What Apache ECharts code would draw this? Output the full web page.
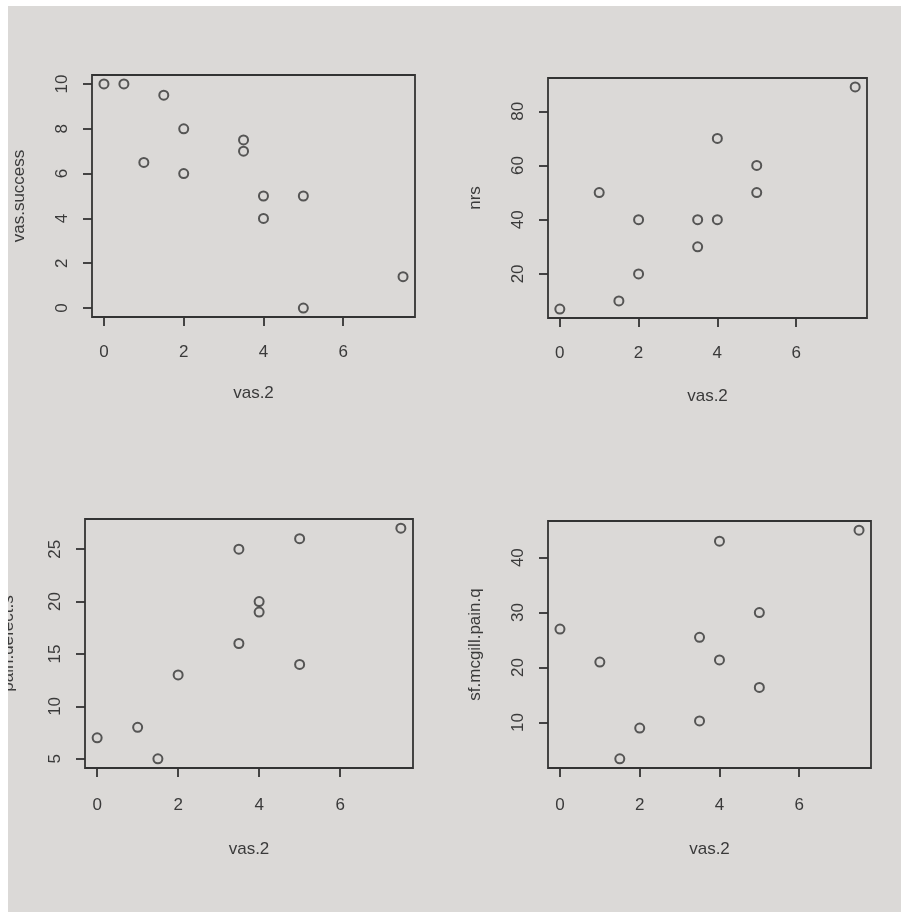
<!DOCTYPE html>
<html>
<head>
<meta charset="utf-8">
<script src="https://cdn.jsdelivr.net/npm/echarts@6/dist/echarts.min.js"></script>
<style>
  html, body { margin: 0; padding: 0; background: #ffffff; width: 901px; height: 917px; overflow: hidden; }
  #chart { position: absolute; left: 8px; top: 6px; width: 893px; height: 906px; background: #dbd9d7; overflow: hidden; }
</style>
</head>
<body>
<div id="chart"></div>
<script>
// ---- data ----
const xName = 'vas.2';

const vas2_p1 = [0, 0.5, 1.5, 1, 2, 2, 3.5, 3.5, 4, 4, 5, 5, 7.5];
const vasSuccess = [10, 10, 9.5, 6.5, 8, 6, 7.5, 7, 5, 4, 5, 0, 1.4];

const vas2_p2 = [0, 1, 1.5, 2, 2, 3.5, 3.5, 4, 4, 5, 5, 7.5];
const nrs = [7, 50, 10, 40, 20, 40, 30, 70, 40, 60, 50, 89];

const vas2_p3 = [0, 1, 1.5, 2, 3.5, 3.5, 4, 4, 5, 5, 7.5];
const painDefect = [7, 8, 5, 13, 16, 25, 20, 19, 14, 26, 27];

const vas2_p4 = [0, 1, 1.5, 2, 3.5, 3.5, 4, 4, 5, 5, 7.5];
const sfMcgill = [27, 21, 3.4, 9, 25.5, 10.3, 43, 21.4, 30, 16.4, 45];

const xTicks = [0, 2, 4, 6];
const yTicks_p1 = [0, 2, 4, 6, 8, 10];
const yTicks_p2 = [20, 40, 60, 80];
const yTicks_p3 = [5, 10, 15, 20, 25];
const yTicks_p4 = [10, 20, 30, 40];

const yNames = ['vas.success', 'nrs', 'pain.defect.s', 'sf.mcgill.pain.q'];

// ---- styling / layout ----
const INK = '#333333';
const TXT = '#3a3a3a';
const FONT = 'Liberation Sans, Arial, sans-serif';

// R-style 4% extension of the data range
function rRange(arr) {
  const mn = Math.min.apply(null, arr), mx = Math.max.apply(null, arr);
  const d = (mx - mn) * 0.04;
  return [mn - d, mx + d];
}

const panels = [
  { x: vas2_p1, y: vasSuccess, yt: yTicks_p1, grid: { left: 84, top: 69, width: 323, height: 242 }, xm: 27, xg: 68, yg: 64 },
  { x: vas2_p2, y: nrs, yt: yTicks_p2, grid: { left: 540, top: 72, width: 319, height: 240 }, xm: 27, xg: 70, yg: 64 },
  { x: vas2_p3, y: painDefect, yt: yTicks_p3, grid: { left: 77, top: 513, width: 328, height: 249 }, xm: 29, xg: 73, yg: 68 },
  { x: vas2_p4, y: sfMcgill, yt: yTicks_p4, grid: { left: 540, top: 515, width: 323, height: 247 }, xm: 29, xg: 73, yg: 64 }
];

const grids = [], xAxes = [], yAxes = [], series = [];
panels.forEach(function (p, i) {
  grids.push(Object.assign({
    show: true, borderColor: INK, borderWidth: 1.8, backgroundColor: 'transparent',
    containLabel: false, outerBoundsMode: 'none'
  }, p.grid));
  const xr = rRange(p.x), yr = rRange(p.y);
  xAxes.push({
    type: 'value', gridIndex: i, min: xr[0], max: xr[1],
    name: xName, nameLocation: 'middle', nameGap: p.xg,
    nameTextStyle: { color: TXT, fontSize: 17, fontFamily: FONT },
    axisLine: { show: false, onZero: false },
    axisTick: { show: true, customValues: xTicks, length: 9, lineStyle: { color: INK, width: 1.8 } },
    axisLabel: { customValues: xTicks, margin: p.xm, color: TXT, fontSize: 17, fontFamily: FONT },
    splitLine: { show: false }
  });
  yAxes.push({
    type: 'value', gridIndex: i, min: yr[0], max: yr[1],
    name: yNames[i], nameLocation: 'middle', nameGap: p.yg,
    nameTextStyle: { color: TXT, fontSize: 17, fontFamily: FONT },
    axisLine: { show: false, onZero: false },
    axisTick: { show: true, customValues: p.yt, length: 9, lineStyle: { color: INK, width: 1.8 } },
    axisLabel: { customValues: p.yt, rotate: 90, margin: 21, color: TXT, fontSize: 17, fontFamily: FONT },
    splitLine: { show: false }
  });
  series.push({
    type: 'scatter', xAxisIndex: i, yAxisIndex: i,
    symbol: 'circle', symbolSize: 9,
    itemStyle: { color: 'transparent', borderColor: INK, borderWidth: 2 },
    data: p.x.map(function (v, k) { return [v, p.y[k]]; }),
    silent: true
  });
});

const chart = echarts.init(document.getElementById('chart'));
chart.setOption({
  backgroundColor: '#dbd9d7',
  animation: false,
  grid: grids,
  xAxis: xAxes,
  yAxis: yAxes,
  series: series
});
</script>
</body>
</html>
